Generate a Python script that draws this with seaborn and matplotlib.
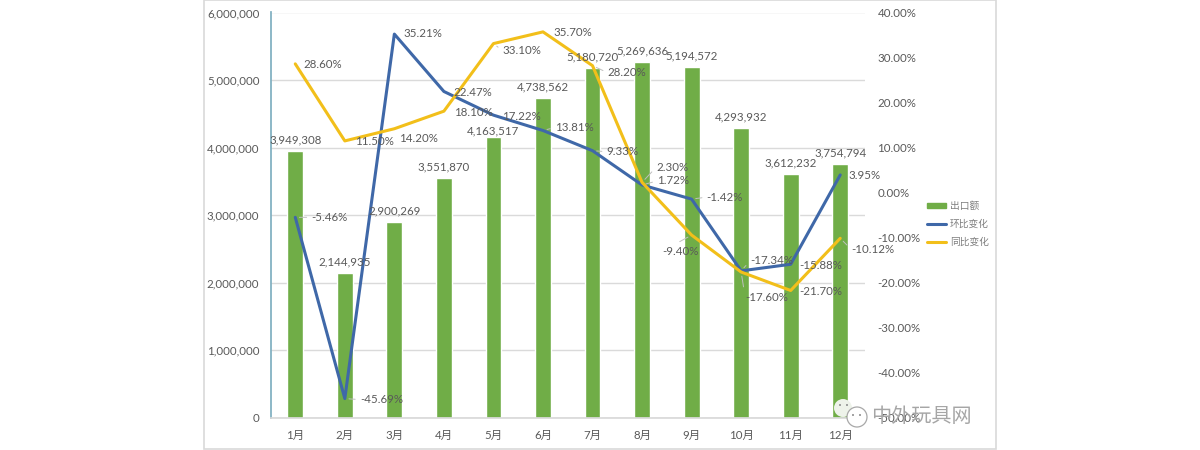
import matplotlib
matplotlib.use('Agg')
import matplotlib.pyplot as plt
import pandas as pd
import seaborn as sns
from matplotlib.lines import Line2D
from matplotlib.patches import Circle, Patch, Rectangle
from matplotlib.ticker import FuncFormatter
from matplotlib.transforms import IdentityTransform

months = ['1月', '2月', '3月', '4月', '5月', '6月', '7月', '8月', '9月', '10月', '11月', '12月']
export_values = [3949308, 2144935, 2900269, 3551870, 4163517, 4738562,
                 5180720, 5269636, 5194572, 4293932, 3612232, 3754794]
mom_values = [-5.46, -45.69, 35.21, 22.47, 17.22, 13.81, 9.33, 1.72, -1.42, -17.34, -15.88, 3.95]
yoy_values = [28.60, 11.50, 14.20, 18.10, 33.10, 35.70, 28.20, 2.30, -9.40, -17.60, -21.70, -10.12]

# label offsets from the point, in pixels (left edge of the text, y up)
bar_label_dy = [11, 11, 11, 11, 6, 11, 11, 11, 11, 11, 11, 11]
mom_offsets = [(16, 0), (15, -1), (9, 1), (10, -1), (9, -1), (12, 3),
               (14, -1), (15, 4), (15, 2), (9, 10), (9, -1), (8, -1)]
yoy_offsets = [(8, -1), (10, -1), (5, -10), (10, -1), (9, -7), (10, -1),
               (15, -7), (14, 15), (-29, -16), (4, -25), (9, -1), (11, -11)]
mom_leaders = [0, 1, 5, 6, 7, 8, 9]
yoy_leaders = [4, 6, 7, 8, 9, 11]

GREEN = '#70AD47'
BLUE = '#3F68A8'
YELLOW = '#F2BF1A'
TEXT = '#595959'
FONT = ['Lato', 'Noto Sans CJK SC', 'DejaVu Sans']

sns.set_theme(style='white')
plt.rcParams['font.family'] = FONT

df = pd.DataFrame({'month': months, 'export': export_values, 'mom': mom_values, 'yoy': yoy_values})

fig = plt.figure(figsize=(12, 4.5), dpi=100)
ax = fig.add_axes([270.5 / 1200, 32 / 450, 594.5 / 1200, 405.5 / 450])
sns.barplot(data=df, x='month', y='export', color=GREEN, width=0.32, saturation=1, ax=ax)
ax.set_xlim(-0.5, 11.5)
ax.set_ylim(0, 6000000)
ax.set_yticks(range(0, 6000001, 1000000))
ax.yaxis.set_major_formatter(FuncFormatter(lambda v, _: f'{int(v):,}'))
ax.set_xlabel('')
ax.set_ylabel('')
ax.grid(axis='y', color='#DADADA', linewidth=1)
ax.set_axisbelow(True)
ax.tick_params(axis='y', length=0, pad=8, labelsize=8.3, labelcolor=TEXT)
ax.tick_params(axis='x', length=0, pad=8.5, labelsize=8.3, labelcolor=TEXT)
for side in ['top', 'right']:
    ax.spines[side].set_visible(False)
ax.spines['left'].set_color('#7FAFC0')
ax.spines['bottom'].set_color('#D9D9D9')

ax2 = ax.twinx()
sns.lineplot(data=df, x='month', y='mom', color=BLUE, linewidth=2.2, sort=False, ax=ax2)
sns.lineplot(data=df, x='month', y='yoy', color=YELLOW, linewidth=2.2, sort=False, ax=ax2)
ax2.set_ylim(-50, 40)
ax2.set_yticks(range(-50, 41, 10))
ax2.yaxis.set_major_formatter(FuncFormatter(lambda v, _: f'{v:.2f}%'))
ax2.set_ylabel('')
ax2.tick_params(axis='y', length=0, pad=9, labelsize=8.3, labelcolor=TEXT)
for side in ['top', 'right', 'left', 'bottom']:
    ax2.spines[side].set_visible(False)

# bar labels go on the top axes so the lines do not cover them
for i, value in enumerate(export_values):
    ax2.annotate(f'{value:,}', xy=(i, value), xycoords=ax.transData,
                 xytext=(0, bar_label_dy[i]), textcoords='offset pixels',
                 ha='center', va='center', fontsize=8.3, color=TEXT)


def label_line(values, offsets, leaders):
    for i, value in enumerate(values):
        arrow = None
        if i in leaders:
            arrow = dict(arrowstyle='-', color='#BFBFBF', linewidth=0.7,
                         relpos=(0, 0.5), shrinkA=1, shrinkB=3)
        ax2.annotate(f'{value:.2f}%', xy=(i, value), xytext=offsets[i],
                     textcoords='offset pixels', ha='left', va='center',
                     fontsize=8.3, color=TEXT, arrowprops=arrow)


label_line(mom_values, mom_offsets, mom_leaders)
label_line(yoy_values, yoy_offsets, yoy_leaders)

handles = [Patch(color=GREEN), Line2D([0], [0], color=BLUE, linewidth=2.2),
           Line2D([0], [0], color=YELLOW, linewidth=2.2)]
fig.legend(handles, ['出口额', '环比变化', '同比变化'], loc='center left',
           bbox_to_anchor=(927 / 1200, 1 - 224 / 450), frameon=False,
           fontsize=7, labelcolor='#7F7F7F', handlelength=2.0, handleheight=0.35,
           handletextpad=0.35, labelspacing=0.85, borderpad=0, borderaxespad=0)

# outer chart frame
fig.add_artist(Rectangle((203.5, 1), 792, 449, transform=IdentityTransform(),
                         fill=False, edgecolor='#D9D9D9', linewidth=1.2))

# watermark
fig.add_artist(Circle((843, 450 - 408), 9, transform=IdentityTransform(),
                      facecolor='#EEF3EA', edgecolor='none'))
fig.add_artist(Circle((857, 450 - 417), 10, transform=IdentityTransform(),
                      facecolor='white', edgecolor='#A8A8A8', linewidth=0.9))
for dot_x, dot_y in [(840, 405), (847, 405), (853, 415), (860, 415)]:
    fig.add_artist(Circle((dot_x, 450 - dot_y), 1, transform=IdentityTransform(),
                          facecolor='#8C8C8C', edgecolor='none'))
fig.text(921 / 1200, 1 - 416 / 450, '中外玩具网', ha='center', va='center',
         fontsize=14.5, color='#A6A6A6', family=['Noto Sans CJK SC', 'DejaVu Sans'])

fig.savefig('out.png', dpi=100)
plt.close(fig)
